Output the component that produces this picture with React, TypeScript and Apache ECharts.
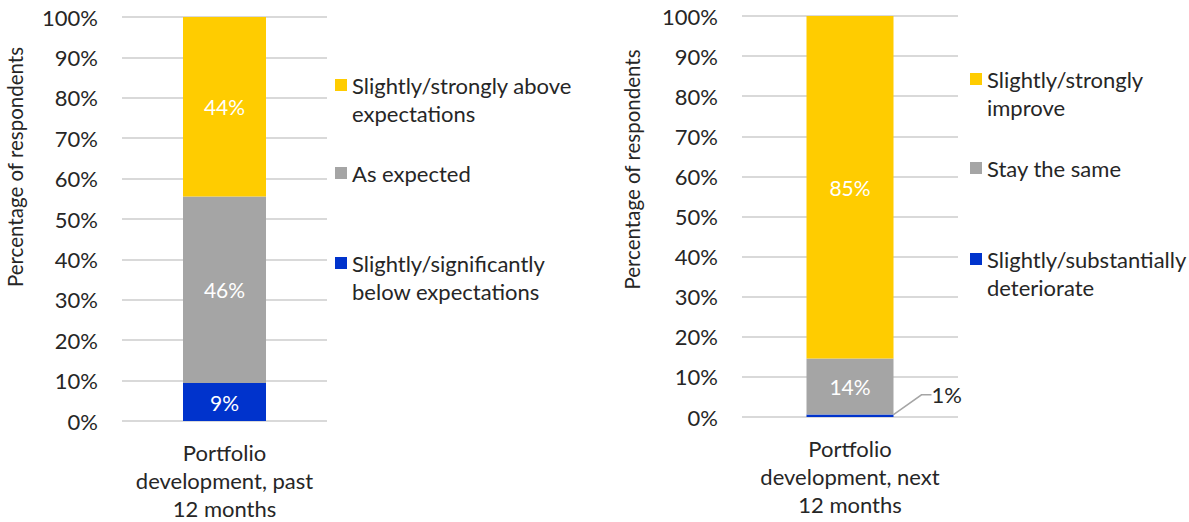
import React, { useEffect, useRef } from "react";
import * as echarts from "echarts";

const categoriesPast = ["Portfolio\ndevelopment, past\n12 months"];
const categoriesNext = ["Portfolio\ndevelopment, next\n12 months"];

const pastNames = [
  "Slightly/significantly\nbelow expectations",
  "As expected",
  "Slightly/strongly above\nexpectations",
];
const pastBelow = [9.4];
const pastExpected = [46.2];
const pastAbove = [44.4];

const nextNames = [
  "Slightly/substantially\ndeteriorate",
  "Stay the same",
  "Slightly/strongly\nimprove",
];
const nextDeteriorate = [0.6];
const nextSame = [14.0];
const nextImprove = [85.4];

const yTicks = { min: 0, max: 100, interval: 10 };

const COLORS = { blue: "#0033CC", gray: "#A5A5A5", yellow: "#FFCC00" };
const FONT = "Lato, 'Noto Sans', sans-serif";
const TEXT = "#262626";

const ICON_TWO = "path://M0,0H12V12H0ZM0,0L0,40";
const ICON_ONE = "path://M0,0H12V12H0Z";

export default function App() {
  const ref = useRef<HTMLDivElement>(null);
  useEffect(() => {
    document.body.style.margin = "0";
    const chart = echarts.init(ref.current!, null, { renderer: "svg" });

    const yAxisCommon = (gridIndex: number, gap: number, shift: number) => ({
      type: "value",
      gridIndex,
      min: yTicks.min,
      max: yTicks.max,
      interval: yTicks.interval,
      name: "Percentage of respondents",
      nameLocation: "middle",
      nameGap: gap,
      nameTextStyle: {
        color: TEXT,
        fontSize: 20.5,
        fontFamily: FONT,
        padding: [0, 0, 0, shift],
      },
      axisLine: { show: false },
      axisTick: { show: false },
      axisLabel: {
        formatter: "{value}%",
        color: TEXT,
        fontSize: 22,
        fontFamily: FONT,
        margin: 24,
      },
      splitLine: { lineStyle: { color: "#D9D9D9", width: 2 } },
    });
    const xAxisCommon = (gridIndex: number, data: string[]) => ({
      type: "category",
      gridIndex,
      data,
      axisLine: { show: false },
      axisTick: { show: false },
      axisLabel: {
        color: TEXT,
        fontSize: 22,
        fontFamily: FONT,
        lineHeight: 28,
        margin: 17,
      },
    });
    const inLabel = {
      show: true,
      position: "inside",
      color: "#FFFFFF",
      fontSize: 21,
      fontFamily: FONT,
      formatter: (p: any) => Math.round(p.value) + "%",
    };
    const bar = (
      name: string,
      data: number[],
      color: string,
      idx: number,
      stack: string,
      width: number,
      extra: any = {}
    ) => ({
      type: "bar",
      name,
      data,
      stack,
      xAxisIndex: idx,
      yAxisIndex: idx,
      barWidth: width,
      itemStyle: { color },
      label: inLabel,
      ...extra,
    });

    const legendItem = (
      name: string,
      two: boolean,
      left: number,
      top: number
    ) => ({
      show: true,
      orient: "vertical",
      left,
      top,
      padding: 0,
      selectedMode: false,
      itemWidth: 12,
      itemHeight: two ? 40 : 12,
      itemGap: 0,
      data: [{ name, icon: two ? ICON_TWO : ICON_ONE }],
      textStyle: {
        color: TEXT,
        fontSize: 22,
        fontFamily: FONT,
        lineHeight: 28,
      },
    });

    chart.setOption({
      animation: false,
      backgroundColor: "#FFFFFF",
      grid: [
        { left: 122, top: 17, width: 205, height: 405 },
        { left: 742, top: 16, width: 216, height: 401 },
      ],
      xAxis: [xAxisCommon(0, categoriesPast), xAxisCommon(1, categoriesNext)],
      yAxis: [yAxisCommon(0, 97, 104), yAxisCommon(1, 100, 94)],
      legend: [
        legendItem(pastNames[2], true, 335, 71),
        legendItem(pastNames[1], false, 335, 159),
        legendItem(pastNames[0], true, 335, 249),
        legendItem(nextNames[2], true, 970, 65),
        legendItem(nextNames[1], false, 970, 154),
        legendItem(nextNames[0], true, 970, 245),
      ],
      series: [
        bar(pastNames[0], pastBelow, COLORS.blue, 0, "past", 83),
        bar(pastNames[1], pastExpected, COLORS.gray, 0, "past", 83),
        bar(pastNames[2], pastAbove, COLORS.yellow, 0, "past", 83),
        bar(nextNames[0], nextDeteriorate, COLORS.blue, 1, "next", 87, {
          label: {
            show: true,
            position: "right",
            distance: 4,
            color: TEXT,
            fontSize: 22,
            fontFamily: FONT,
            formatter: (p: any) => Math.round(p.value) + "%",
          },
          labelLayout: { dx: 34, dy: -21 },
          labelLine: {
            show: true,
            length2: 10,
            lineStyle: { color: "#A5A5A5", width: 1.5 },
          },
        }),
        bar(nextNames[1], nextSame, COLORS.gray, 1, "next", 87),
        bar(nextNames[2], nextImprove, COLORS.yellow, 1, "next", 87),
      ],
    });
    return () => chart.dispose();
  }, []);
  return (
    <div
      ref={ref}
      style={{ position: "fixed", left: 0, top: 0, width: 1189, height: 522 }}
    />
  );
}
